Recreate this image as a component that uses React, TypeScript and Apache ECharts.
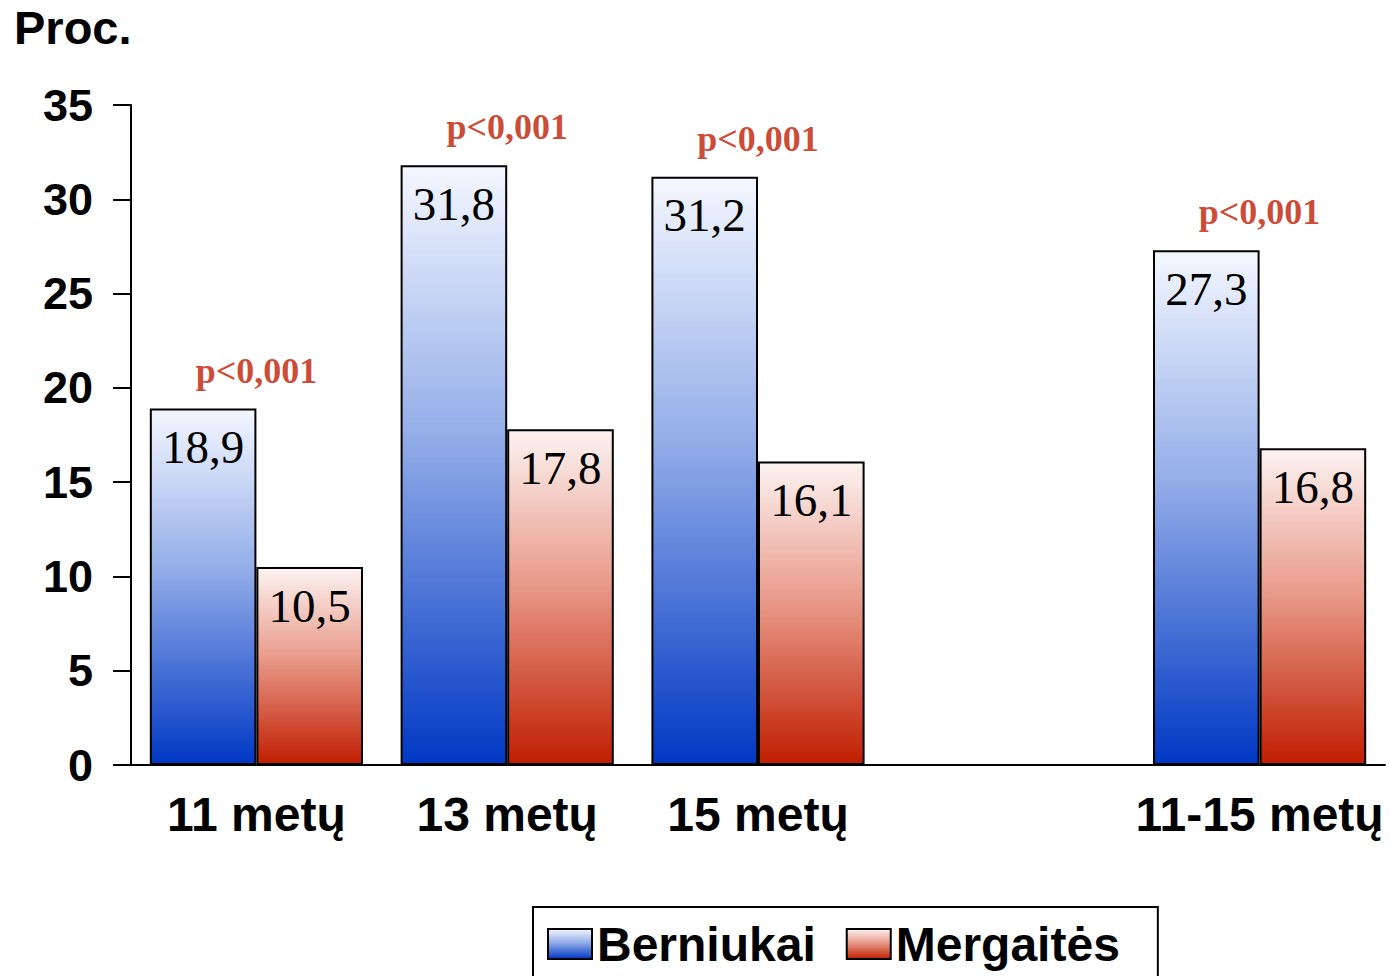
import React, { useEffect, useRef } from "react";
import * as echarts from "echarts";

const categories = ["11 metų", "13 metų", "15 metų", "", "11-15 metų"];
const boys: (number | string)[] = [18.9, 31.8, 31.2, "-", 27.3];
const girls: (number | string)[] = [10.5, 17.8, 16.1, "-", 16.8];
const pLabels: (string | null)[] = ["p<0,001", "p<0,001", "p<0,001", null, "p<0,001"];
const yTicks = [0, 5, 10, 15, 20, 25, 30, 35];
const seriesNames = ["Berniukai", "Mergaitės"];
const yTitle = "Proc.";

const fmt = (v: number) => String(v).replace(".", ",");

export default function App() {
  const ref = useRef<HTMLDivElement>(null);
  useEffect(() => {
    if (!ref.current) return;
    const chart = echarts.init(ref.current, undefined, { renderer: "svg" });
    const blueGrad = new echarts.graphic.LinearGradient(0, 0, 0, 1, [
      { offset: 0, color: "#f4f7ff" },
      { offset: 0.45, color: "#93ade8" },
      { offset: 1, color: "#0038c4" },
    ]);
    const redGrad = new echarts.graphic.LinearGradient(0, 0, 0, 1, [
      { offset: 0, color: "#fcf3f1" },
      { offset: 0.45, color: "#e99c8c" },
      { offset: 1, color: "#c01e00" },
    ]);
    const pData = categories.map((c, i) =>
      pLabels[i] ? { value: [i, Math.max(boys[i] as number, girls[i] as number)], name: pLabels[i] } : null
    ).filter(Boolean);
    const sans = "Liberation Sans, Arial, sans-serif";
    const serif = "Liberation Serif, Times New Roman, serif";
    chart.setOption({
      animation: false,
      graphic: [
        {
          type: "text",
          left: 14,
          top: 4,
          style: { text: yTitle, font: `bold 47px ${sans}`, fill: "#000" },
        },
      ],
      grid: { left: 131, right: 5, top: 105, bottom: 211, containLabel: false },
      legend: {
        data: seriesNames,
        icon: "rect",
        left: 533,
        top: 907,
        orient: "horizontal",
        padding: [13, 38, 40, 14],
        itemGap: 30,
        itemWidth: 44,
        itemHeight: 30,
        borderColor: "#000",
        borderWidth: 2,
        textStyle: { fontFamily: sans, fontWeight: "bold", fontSize: 48, color: "#000" },
      },
      xAxis: {
        type: "category",
        data: categories,
        axisLine: { show: true, lineStyle: { color: "#000", width: 2 } },
        axisTick: { show: false },
        axisLabel: { fontFamily: sans, fontWeight: "bold", fontSize: 48, color: "#000", margin: 25, interval: 0 },
        splitLine: { show: false },
      },
      yAxis: {
        type: "value",
        min: yTicks[0],
        max: yTicks[yTicks.length - 1],
        interval: 5,
        axisLine: { show: true, lineStyle: { color: "#000", width: 2 } },
        axisTick: { show: true, length: 18, lineStyle: { color: "#000", width: 2 } },
        axisLabel: { fontFamily: sans, fontWeight: "bold", fontSize: 45, color: "#000", margin: 38 },
        splitLine: { show: false },
      },
      series: [
        {
          name: seriesNames[0],
          type: "bar",
          data: boys,
          barWidth: "42.5%",
          barGap: "0%",
          itemStyle: { color: blueGrad, borderColor: "#000", borderWidth: 2 },
          label: {
            show: true,
            position: "insideTop",
            distance: 15,
            formatter: (p: any) => fmt(p.value),
            fontFamily: serif,
            fontSize: 47,
            color: "#000",
          },
        },
        {
          name: seriesNames[1],
          type: "bar",
          data: girls,
          barWidth: "42.5%",
          barGap: "0%",
          itemStyle: { color: redGrad, borderColor: "#000", borderWidth: 2 },
          label: {
            show: true,
            position: "insideTop",
            distance: 15,
            formatter: (p: any) => fmt(p.value),
            fontFamily: serif,
            fontSize: 47,
            color: "#000",
          },
        },
        {
          name: "p",
          type: "scatter",
          data: pData,
          symbolSize: 0,
          silent: true,
          label: {
            show: true,
            position: "top",
            distance: 20,
            formatter: (p: any) => p.name,
            fontFamily: serif,
            fontWeight: "bold",
            fontSize: 36,
            color: "#c01a00",
          },
        },
      ],
    });
    return () => chart.dispose();
  }, []);
  return (
    <div
      ref={ref}
      style={{ position: "fixed", left: 0, top: 0, width: 1390, height: 976, background: "#fff" }}
    />
  );
}
